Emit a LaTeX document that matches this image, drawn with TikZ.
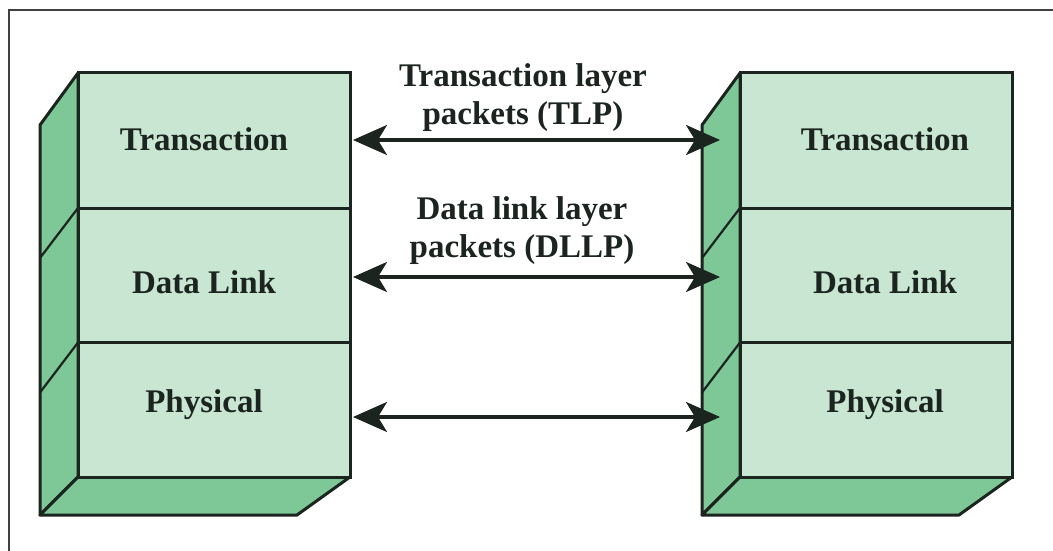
\documentclass[tikz,border=0pt]{standalone}
\usepackage{fontspec}
\setmainfont{Liberation Serif}
\usetikzlibrary{arrows.meta}
\definecolor{frontg}{HTML}{C8E6D2}
\definecolor{sideg}{HTML}{7DC896}
\definecolor{edge}{HTML}{1C241F}
\begin{document}
\begin{tikzpicture}[x=1pt,y=-1pt,
  layer/.style={draw=edge, line width=3pt, fill=frontg, minimum width=272pt, minimum height=135pt, inner sep=0pt, outer sep=0pt},
  txt/.style={font=\bfseries\fontsize{33}{38}\selectfont, text=edge, inner sep=0pt},
  sideface/.style={fill=sideg, draw=edge, line width=3pt, line join=round},
  diag/.style={draw=edge, line width=2.2pt},
  tipshape/.style={Stealth[length=34pt,width=30pt,inset=9pt]},
  link/.style={line width=3.2pt, draw=edge, {Stealth[length=34pt,width=30pt,inset=9pt]}-{Stealth[length=34pt,width=30pt,inset=9pt]}}]
\useasboundingbox (0,0) rectangle (1053,551);
\draw[line width=2.5pt, draw=black!75] (9,551) -- (9,10) -- (1053,10);
% left stack
\draw[sideface] (78,73) -- (40,125) -- (40,515) -- (78,477) -- cycle;
\draw[sideface] (78,477) -- (350,477) -- (297,515) -- (40,515) -- cycle;
\node[layer] (lt) at (214,140.5) {};
\node[layer] (ld) at (214,275.5) {};
\node[layer] (lp) at (214,410) {};
\draw[diag] (ld.north west) -- ++(-38,50);
\draw[diag] (lp.north west) -- ++(-38,50);
% right stack
\draw[sideface] (740,73) -- (702,125) -- (702,515) -- (740,477) -- cycle;
\draw[sideface] (740,477) -- (1012,477) -- (959,515) -- (702,515) -- cycle;
\node[layer] (rt) at (876,140.5) {};
\node[layer] (rd) at (876,275.5) {};
\node[layer] (rp) at (876,410) {};
\draw[diag] (rd.north west) -- ++(-38,50);
\draw[diag] (rp.north west) -- ++(-38,50);
% layer names
\node[txt, anchor=base] (ltt) at (204,150) {Transaction};
\node[txt, anchor=base] (ldt) at (204,293) {Data Link};
\node[txt, anchor=base] (lpt) at (204,412) {Physical};
\node[txt, anchor=base] (rtt) at (885,150) {Transaction};
\node[txt, anchor=base] (rdt) at (885,293) {Data Link};
\node[txt, anchor=base] (rpt) at (885,412) {Physical};
% connectors
\draw[link] ([xshift=3pt,yshift=0.5pt]lt.east) -- ([xshift=-20pt,yshift=0.5pt]rt.west);
\draw[link] ([xshift=3pt,yshift=-1.5pt]ld.east) -- ([xshift=-20pt,yshift=-1.5pt]rd.west);
\draw[link] ([xshift=3pt,yshift=-7pt]lp.east) -- ([xshift=-20pt,yshift=-7pt]rp.west);
% labels
\node[txt, align=center, anchor=north] (tlp) at (523,63) {Transaction layer\\packets (TLP)};
\node[txt, align=center, anchor=north] (dllp) at (522,196) {Data link layer\\packets (DLLP)};
\end{tikzpicture}
\end{document}
